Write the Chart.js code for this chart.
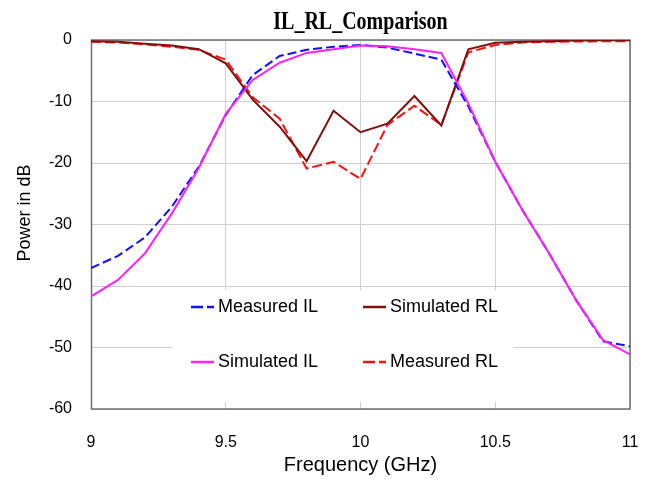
<!DOCTYPE html>
<html>
<head>
<meta charset="utf-8">
<script src="https://cdn.jsdelivr.net/npm/chart.js@4.4.1/dist/chart.umd.min.js"></script>
<style>
html,body{margin:0;padding:0;background:#ffffff;}
#wrap{width:648px;height:479px;position:relative;}
</style>
</head>
<body>
<div id="wrap"><canvas id="c" width="648" height="479"></canvas></div>
<script>
// ---- data ----
const frequencies = [9.0, 9.1, 9.2, 9.3, 9.4, 9.5, 9.6, 9.7, 9.8, 9.9, 10.0, 10.1, 10.2, 10.3, 10.4, 10.5, 10.6, 10.7, 10.8, 10.9, 11.0];
const measuredIL  = [-37.1, -35.1, -32.1, -27.1, -20.6, -12.2, -5.7, -2.6, -1.6, -1.1, -0.8, -1.25, -2.2, -3.2, -10.8, -19.8, -27.6, -34.7, -42.3, -49.0, -49.8];
const simulatedIL = [-41.7, -39.0, -34.7, -28.2, -20.8, -12.0, -6.5, -3.7, -2.1, -1.5, -0.9, -1.0, -1.5, -2.1, -10.3, -19.8, -27.6, -34.7, -42.3, -48.8, -51.1];
const simulatedRL = [-0.2, -0.3, -0.6, -0.9, -1.5, -3.8, -9.7, -14.1, -19.7, -11.5, -15.0, -13.6, -9.1, -13.9, -1.5, -0.45, -0.3, -0.2, -0.1, -0.05, -0.05];
const measuredRL  = [-0.3, -0.4, -0.7, -1.1, -1.6, -3.2, -9.3, -12.8, -20.9, -19.8, -22.6, -13.8, -10.7, -13.8, -2.0, -0.8, -0.4, -0.3, -0.25, -0.2, -0.2];
const xTickValues = [9, 9.5, 10, 10.5, 11];
const yTickValues = [0, -10, -20, -30, -40, -50, -60];
const chartTitle = 'IL_RL_Comparison';
const xAxisTitle = 'Frequency (GHz)';
const yAxisTitle = 'Power in dB';
const seriesNames = ['Measured IL', 'Simulated RL', 'Simulated IL', 'Measured RL'];

// ---- styles ----
const SANS = "'Liberation Sans', Arial, sans-serif";
const SERIF = "'Liberation Serif', 'Times New Roman', serif";
const seriesStyles = {
  'Measured IL':  {color:'#1010ff', dash:[9,4]},
  'Simulated RL': {color:'#7f1010', dash:[]},
  'Simulated IL': {color:'#ff20ff', dash:[]},
  'Measured RL':  {color:'#ff1010', dash:[10,4]}
};
const seriesValues = {
  'Measured IL': measuredIL,
  'Simulated RL': simulatedRL,
  'Simulated IL': simulatedIL,
  'Measured RL': measuredRL
};
const drawOrder = ['Simulated IL', 'Measured IL', 'Simulated RL', 'Measured RL'];

const datasets = drawOrder.map((name, i) => ({
  label: name,
  data: frequencies.map((f, k) => ({x: f, y: seriesValues[name][k]})),
  borderColor: seriesStyles[name].color,
  backgroundColor: seriesStyles[name].color,
  borderDash: seriesStyles[name].dash,
  borderWidth: 2,
  pointRadius: 0,
  tension: 0,
  fill: false,
  order: i
}));

const decor = {
  id: 'decor',
  beforeDatasetsDraw(chart) {
    const {ctx, chartArea: a} = chart;
    ctx.save();
    // legend background (covers grid lines inside the plot)
    ctx.fillStyle = '#ffffff';
    ctx.fillRect(172, 290, 341, 112);
    // plot frame
    ctx.strokeStyle = '#6f6f6f';
    ctx.lineWidth = 1.5;
    ctx.strokeRect(a.left + 0.5, a.top, a.right - a.left - 0.5, a.bottom - a.top);
    ctx.restore();
  },
  afterDraw(chart) {
    const {ctx, chartArea: a} = chart;
    ctx.save();
    ctx.fillStyle = '#000000';
    // chart title
    ctx.save();
    ctx.translate((a.left + a.right) / 2, 28.5);
    ctx.scale(0.8, 1);
    ctx.font = 'bold 25px ' + SERIF;
    ctx.textAlign = 'center';
    ctx.textBaseline = 'alphabetic';
    ctx.fillText(chartTitle, 0, 0);
    ctx.restore();
    // x axis title
    ctx.font = '20px ' + SANS;
    ctx.textAlign = 'center';
    ctx.textBaseline = 'middle';
    ctx.fillText(xAxisTitle, (a.left + a.right) / 2, 465);
    // y axis title
    ctx.save();
    ctx.translate(25, 213);
    ctx.rotate(-Math.PI / 2);
    ctx.font = '18px ' + SANS;
    ctx.textAlign = 'center';
    ctx.textBaseline = 'middle';
    ctx.fillText(yAxisTitle, 0, 0);
    ctx.restore();
    // legend entries
    const cols = [191, 363];
    const rows = [307, 362];
    const layout = [[0,0],[1,0],[0,1],[1,1]];
    seriesNames.forEach((name, i) => {
      const [c, r] = layout[i];
      const x0 = cols[c], y0 = rows[r];
      const st = seriesStyles[name];
      ctx.strokeStyle = st.color;
      ctx.lineWidth = 2.5;
      ctx.setLineDash(st.dash.length ? [12, 4] : []);
      ctx.beginPath();
      ctx.moveTo(x0, y0);
      ctx.lineTo(x0 + 23, y0);
      ctx.stroke();
      ctx.setLineDash([]);
      ctx.fillStyle = '#000000';
      ctx.font = '18px ' + SANS;
      ctx.textAlign = 'left';
      ctx.textBaseline = 'middle';
      ctx.fillText(name, x0 + 27, y0);
    });
    ctx.restore();
  }
};

new Chart(document.getElementById('c'), {
  type: 'line',
  data: {datasets},
  options: {
    responsive: false,
    animation: false,
    devicePixelRatio: 1,
    layout: {padding: {top: 40, right: 18, bottom: 0, left: 0}},
    plugins: {legend: {display: false}, title: {display: false}, tooltip: {enabled: false}},
    scales: {
      x: {
        type: 'linear',
        min: 9, max: 11,
        afterBuildTicks: s => { s.ticks = xTickValues.map(v => ({value: v})); },
        afterFit: s => { s.height = 70; s.paddingLeft = 0; s.paddingRight = 0; },
        grid: {color: '#cfcfcf', lineWidth: 1, drawTicks: false},
        border: {display: false},
        ticks: {padding: 24, color: '#000', font: {family: SANS, size: 16}, maxRotation: 0,
                callback: v => String(v)}
      },
      y: {
        type: 'linear',
        min: -60, max: 0,
        afterBuildTicks: s => { s.ticks = yTickValues.map(v => ({value: v})); },
        afterFit: s => { s.width = 91; s.paddingTop = 0; s.paddingBottom = 0; },
        grid: {color: '#cfcfcf', lineWidth: 1, drawTicks: false},
        border: {display: false},
        ticks: {padding: 19, color: '#000', font: {family: SANS, size: 16},
                callback: v => String(v)}
      }
    }
  },
  plugins: [decor]
});
</script>
</body>
</html>
